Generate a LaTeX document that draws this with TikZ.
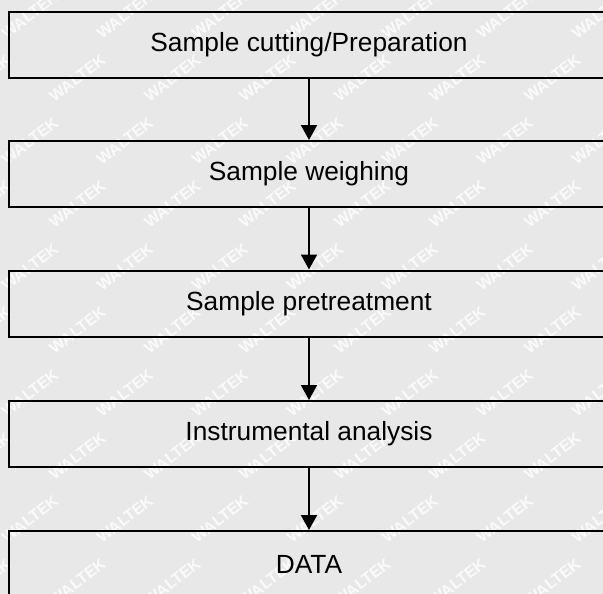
\documentclass[tikz,border=0pt]{standalone}
\usepackage{fontspec}
\setmainfont{Liberation Sans}
\usetikzlibrary{arrows.meta}
\definecolor{bgc}{HTML}{E8E8E8}
\tikzset{
  stepbox/.style={draw=black, line width=2pt, minimum width=600pt, minimum height=66pt, inner sep=0pt, font=\fontsize{26.3}{29}\selectfont, text=black},
  flow/.style={draw=black, line width=2pt, -{Triangle[length=15pt,width=16pt]}},
  wmark/.style={text=white, opacity=0.8, rotate=38, font=\bfseries\fontsize{16}{16}\selectfont}
}
\begin{document}
\begin{tikzpicture}[x=1pt,y=-1pt]
\fill[bgc] (0,0) rectangle (603,594);
\useasboundingbox (0,0) rectangle (603,594);
% watermarks
\foreach \j in {0,...,9} {
  \foreach \i in {-1,...,6} {
    \pgfmathsetmacro{\xx}{30+95*\i+47.5*mod(\j,2)}
    \pgfmathsetmacro{\yy}{15+63*\j}
    \node[wmark] at (\xx,\yy) {WALTEK};
  }
}
\node[stepbox] (s1) at (309,45) {Sample cutting/Preparation};
\node[stepbox] (s2) at (309,174) {Sample weighing};
\node[stepbox] (s3) at (309,303.5) {Sample pretreatment};
\node[stepbox] (s4) at (309,434) {Instrumental analysis};
\node[stepbox] (s5) at (309,564) {DATA};
\draw[flow] (s1.south) -- (s2.north);
\draw[flow] (s2.south) -- (s3.north);
\draw[flow] (s3.south) -- (s4.north);
\draw[flow] (s4.south) -- (s5.north);
\end{tikzpicture}
\end{document}
